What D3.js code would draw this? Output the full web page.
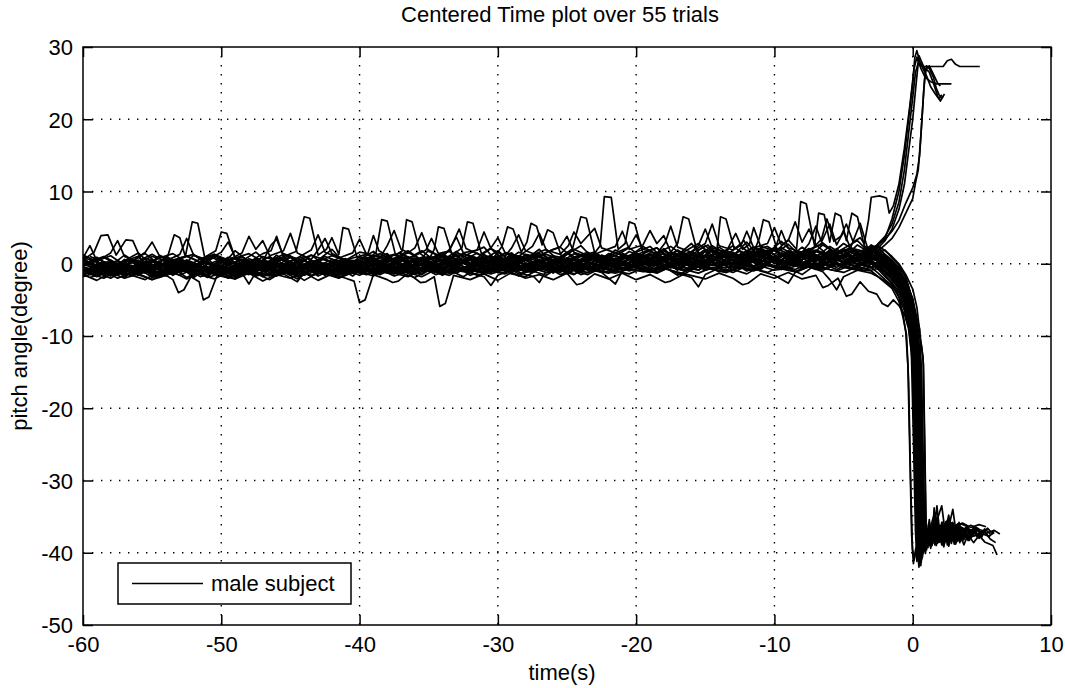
<!DOCTYPE html>
<html><head><meta charset="utf-8">
<script src="https://cdn.jsdelivr.net/npm/d3@7"></script>
<style>body{margin:0;background:#fff} text{font-family:"Liberation Sans",Arial,sans-serif;fill:#000}</style>
</head><body><svg id="c" width="1065" height="688"></svg>
<script>
// ---------- axis / labels ----------
const titleText = "Centered Time plot over 55 trials";
const xLabelText = "time(s)";
const yLabelText = "pitch angle(degree)";
const legendText = "male subject";
const xTicks = [-60,-50,-40,-30,-20,-10,0,10];
const yTicks = [-50,-40,-30,-20,-10,0,10,20,30];

// ---------- baseline samples, group A: 1 s steps starting at t=-60 ----------
const band01=[-0.5,-1.2,0.3,-0.8,-1.5,0.6,-0.2,-1.0,-0.4,0.8,-1.3,-0.6,0.2,-1.1,-0.3,0.9,-0.7,-1.4,0.1,-0.5,0.4,-0.9,1.1,-0.2,0.6,-1.0,0.3,1.3,-0.6,0.0,0.8,-0.4,1.2,-0.8,0.5,0.1,-0.7,1.0,-0.3,0.6,1.2,-0.4,0.9,1.8,0.2,-0.6,1.4,0.5,-0.2,1.6,0.8,-0.5,1.1,0.3,1.9,-0.1,0.7,1.3];
const band02=[-1.0,-0.3,-1.6,0.2,-0.9,-0.1,-1.4,0.5,-1.1,-0.6,0.4,-1.7,-0.2,-0.8,0.7,-1.2,0.0,-0.5,-1.5,0.3,-0.6,0.9,-0.3,-1.2,0.5,1.0,-0.8,0.2,-1.0,0.7,-0.1,1.4,-0.5,0.3,-1.3,0.8,0.1,-0.6,1.1,-0.2,0.5,1.5,-0.3,0.8,0.1,1.7,-0.6,0.9,1.3,0.0,2.0,0.4,-0.4,1.2,0.6,1.8,-0.2,0.9];
const band03=[0.8,-0.6,-1.3,-0.2,0.5,-1.8,-0.4,0.2,-0.9,-1.5,0.1,0.7,-1.0,-0.3,-1.6,0.4,-0.8,0.3,-1.2,-0.1,-1.1,0.3,0.6,-0.5,-1.4,0.2,0.9,-0.3,0.5,-0.9,1.2,0.0,-0.6,1.0,0.4,-1.1,0.6,1.3,-0.4,0.2,-0.5,0.7,2.1,0.3,-0.3,1.0,1.6,-0.1,0.6,2.2,0.2,1.0,-0.5,1.7,0.9,0.3,1.5,0.4];
const band04=[-1.4,-0.7,0.1,-1.9,-0.5,-1.1,0.3,-0.6,-1.7,0.0,-0.9,-0.2,-1.3,0.5,-0.4,-1.6,-0.9,0.2,-0.3,-1.0,0.1,-1.3,-0.4,0.7,-0.8,-0.2,1.1,-0.7,-1.1,0.4,-0.3,0.6,-1.0,0.1,0.9,-0.5,-0.9,0.5,0.0,-0.8,0.9,-0.2,0.4,-0.9,1.3,0.6,-0.3,0.2,1.1,-0.7,0.5,1.4,0.0,-0.4,1.0,0.3,-0.6,0.8];
const band05=[-0.2,0.9,-0.5,0.4,1.5,-0.3,0.7,-0.9,1.2,0.1,-0.4,1.8,0.3,-0.2,0.6,1.1,-0.6,0.5,2.0,-0.1,0.6,1.7,0.2,1.0,-0.4,1.9,0.8,0.3,1.5,2.3,0.1,1.0,0.6,2.0,-0.2,1.3,2.5,0.5,1.1,0.0,1.6,2.4,0.7,1.2,2.8,0.4,1.9,1.1,3.0,0.6,2.2,1.4,0.5,2.6,1.0,2.1,3.2,1.3];
const band06=[-1.8,-1.2,-2.0,-0.9,-1.5,-2.2,-1.0,-1.6,-0.7,-1.9,-1.3,-2.1,-0.8,-1.4,-1.7,-1.0,-2.3,-1.2,-0.6,-1.5,-1.1,-1.7,-0.5,-1.3,-1.9,-0.8,-1.2,-0.4,-1.6,-1.0,-0.6,-1.4,-1.8,-0.7,-1.1,-0.3,-1.5,-0.9,-1.3,-0.5,-0.9,-1.2,-0.4,-1.6,-0.7,-0.2,-1.1,-0.8,-1.4,-0.3,-0.9,-0.6,-1.5,-0.1,-0.8,-1.2,-0.4,-0.9];
const band07=[0.3,-0.4,-1.0,0.6,-0.2,-0.7,1.0,0.1,-0.5,0.4,-1.1,0.8,0.0,-0.6,1.2,-0.3,0.5,-0.8,0.2,0.7,-0.2,0.5,1.4,-0.6,0.8,0.2,-0.4,1.6,0.6,-0.1,0.9,1.5,-0.3,0.4,1.1,0.7,-0.5,1.3,0.3,1.0,0.2,1.1,0.6,1.9,0.8,0.3,2.3,1.0,0.5,1.4,2.0,0.7,1.6,0.9,2.4,1.2,0.6,1.7];
const band08=[-0.9,-1.6,-0.4,-1.2,0.0,-0.8,-1.5,-0.3,-1.9,-0.6,-1.0,-0.2,-1.4,-0.7,-1.2,-0.1,-1.6,-0.9,-1.3,-0.4,-0.5,-1.0,0.2,-0.7,-1.4,-0.1,-0.6,0.4,-1.2,-0.3,0.1,-0.9,-0.2,0.6,-0.8,-1.1,0.0,-0.5,0.5,-1.0,-0.3,0.4,-0.7,0.2,1.0,-0.5,0.3,-0.9,0.7,0.1,-0.4,1.2,0.0,0.6,-0.2,0.9,0.4,-0.6];
const band09=[-0.3,0.4,-0.9,-1.4,0.2,-0.5,0.9,-1.2,-0.1,-0.7,0.6,-0.4,-1.0,0.3,-0.2,-1.3,0.5,-0.6,0.1,-0.9,0.2,-0.4,0.8,0.0,-0.9,1.0,0.4,-0.3,0.7,-0.6,0.3,1.1,-0.2,-0.8,0.6,0.2,1.2,-0.4,0.5,0.9,0.6,-0.1,1.0,0.4,1.5,-0.2,0.8,1.2,0.3,1.8,0.6,0.1,1.3,0.7,1.6,0.2,1.0,2.0];
const band10=[-1.2,0.0,-0.6,-1.1,-0.3,0.4,-1.4,-0.8,0.1,-1.0,-0.5,-1.5,0.3,-0.7,-1.1,-0.2,-0.8,0.5,-1.3,-0.6,-0.8,0.0,-1.1,0.5,-0.3,-0.9,0.2,-0.6,0.9,-0.2,-1.0,0.4,0.8,-0.4,0.1,-0.7,0.6,-0.1,-0.9,0.3,1.0,0.2,-0.3,0.7,-0.6,1.1,0.4,-0.1,0.9,1.5,0.0,0.6,-0.3,1.1,0.5,-0.2,1.4,0.8];
const band11=[0.5,-0.2,0.2,-0.6,0.9,-0.9,0.0,0.6,-0.4,1.1,0.3,-0.8,0.7,0.0,-0.5,0.4,1.0,-0.3,0.6,-0.7,1.0,0.3,-0.5,1.2,0.7,-0.2,0.5,1.7,0.0,1.1,0.6,-0.4,1.3,0.9,0.2,1.6,0.4,-0.1,1.4,0.8,1.5,0.7,1.9,0.1,1.2,2.5,0.9,1.6,0.4,2.1,1.3,2.7,0.8,1.9,1.2,2.8,1.6,2.3];
const band12=[-0.7,-1.3,-0.1,-0.9,-1.6,-0.4,0.0,-1.2,-0.6,-1.8,-0.2,-0.9,-1.5,-0.5,0.2,-1.0,-0.4,-1.7,-0.8,-0.2,-1.3,-0.6,-0.1,-1.0,-0.4,0.3,-0.8,-1.3,-0.2,0.4,-0.7,-0.1,-1.2,0.2,-0.5,0.6,-0.9,-0.3,0.1,-0.6,0.0,-0.7,0.5,-0.2,-0.9,0.3,0.8,-0.4,0.1,-0.8,0.6,-0.1,0.9,-0.5,0.3,-0.2,0.7,0.0];
const band13=[0.1,-0.9,-0.2,-0.5,-1.2,0.3,-0.6,-0.1,-1.3,0.0,-0.3,-0.9,0.4,-1.1,-0.5,0.2,-0.2,-1.0,-0.4,0.3,-0.3,0.7,-0.5,0.3,1.1,-0.7,0.0,0.5,-0.4,1.2,0.2,-0.9,0.6,0.0,1.0,-0.6,0.3,0.8,-0.2,1.3,-0.1,0.8,1.4,0.0,0.6,-0.3,1.2,0.5,1.8,0.2,0.9,-0.1,1.5,0.4,1.1,2.0,0.3,1.0];
const band14=[-1.6,-0.8,-1.1,-0.2,-1.4,-0.9,-1.7,-0.5,-0.1,-1.3,-0.8,-1.4,-0.4,-1.8,-0.9,-0.6,-1.2,-0.1,-1.5,-1.1,-0.4,-1.5,-0.8,-0.2,-1.2,-0.6,-1.6,-0.3,-0.9,-1.3,-0.5,0.0,-1.1,-0.7,-0.2,-1.4,-0.4,-0.8,-1.2,-0.1,-0.6,-1.1,-0.2,-0.7,0.1,-0.9,-0.4,0.2,-1.0,-0.3,0.4,-0.6,-0.1,-0.8,0.3,-0.5,-0.9,0.0];
const band15=[0.9,0.2,-0.3,1.2,0.0,0.5,-0.4,0.8,1.3,-0.1,0.6,0.2,-0.5,1.0,0.4,0.9,-0.2,0.3,1.1,0.5,0.4,-0.1,0.9,1.5,0.3,0.8,1.2,0.0,1.0,0.6,1.8,0.2,0.7,1.4,0.5,0.0,1.1,1.6,0.4,0.8,1.3,0.5,1.8,1.0,0.6,2.0,1.2,2.5,0.9,1.5,1.9,0.7,2.3,1.1,1.7,0.8,2.6,1.4];
const band16=[-0.4,-1.0,-1.7,-0.6,-0.3,-1.4,-0.9,0.1,-0.7,-1.2,-0.4,-1.9,-0.6,-0.1,-1.1,-0.7,-1.5,-0.3,-0.9,-1.2,-0.9,-0.2,-0.7,-1.4,0.0,-0.5,-1.0,-0.1,0.5,-0.8,-0.4,-1.1,0.1,-0.3,-0.9,0.3,-0.6,-1.0,-0.2,0.2,-0.5,0.1,-0.8,0.6,-0.2,-0.6,0.4,-0.9,0.0,0.5,-0.4,0.2,-0.7,0.8,0.1,-0.3,0.5,-0.5];
const band17=[-0.1,-0.6,0.5,-1.0,0.1,-0.3,-0.8,0.4,-0.5,0.2,-1.2,-0.2,0.3,-0.7,0.0,-0.4,0.6,-1.1,0.0,-0.3,0.0,0.6,-0.2,0.9,0.1,-0.5,1.3,0.4,-0.2,0.7,1.0,-0.3,0.5,1.2,-0.1,0.8,0.3,1.5,0.2,-0.3,0.8,1.3,0.3,1.0,1.7,0.5,0.0,1.4,0.7,1.1,0.2,1.8,0.9,0.4,1.3,1.9,0.6,1.2];
const band18=[-1.1,-0.5,-1.5,-0.3,-1.0,-0.2,-1.3,-0.7,-1.1,-0.4,-1.6,-0.6,-0.9,-1.4,-0.3,-0.8,-1.2,-0.6,-1.0,-0.5,-0.7,-1.2,-0.1,-0.6,-1.0,-0.3,0.1,-0.9,-0.5,-1.1,0.0,-0.4,-0.8,0.3,-0.6,-0.2,-1.0,0.4,-0.4,-0.7,0.2,-0.3,0.6,-0.6,0.3,-0.1,0.9,-0.4,0.4,0.0,-0.5,0.7,0.2,-0.2,1.0,0.1,-0.3,0.6];

// ---------- baseline samples, group B: 1 s steps starting at t=-59.5 ----------
const band19=[-0.8,0.2,-1.4,-0.3,-1.0,0.4,-1.6,-0.5,0.1,-1.2,-0.2,-0.9,0.6,-1.3,-0.4,-1.8,0.0,-0.7,-1.1,0.3,-0.5,-1.3,0.2,-0.6,0.8,-0.9,-0.1,0.5,-1.1,0.3,-0.4,1.0,-0.7,0.2,-1.0,0.7,-0.3,0.4,1.2,-0.5,0.1,0.9,-0.4,1.4,0.3,-0.2,1.1,0.6,-0.5,1.5,0.2,0.9,1.7,-0.1,0.6,1.2,0.3];
const band20=[0.4,-1.1,-0.5,-1.7,0.0,-0.8,-1.3,0.2,-0.6,-1.5,-0.1,0.5,-1.0,-0.4,-1.2,0.1,-0.6,-1.6,-0.2,-0.9,0.5,-0.3,-1.0,0.1,0.9,-0.6,0.3,-0.8,0.6,1.1,-0.2,0.4,-0.9,0.8,0.0,-0.5,1.0,0.2,-0.7,0.6,1.3,0.0,0.7,-0.3,1.6,0.4,1.0,-0.2,0.8,1.9,0.5,-0.1,1.2,0.7,2.1,0.3,1.4];
const band21=[-1.5,-0.9,-2.0,-1.2,-0.6,-1.7,-1.1,-2.1,-0.8,-1.4,-1.9,-0.7,-1.3,-2.2,-1.0,-0.5,-1.6,-1.2,-1.9,-0.9,-1.4,-0.8,-1.7,-1.1,-0.5,-1.5,-0.9,-1.8,-0.6,-1.2,-0.3,-1.4,-1.0,-1.6,-0.4,-0.9,-1.5,-0.6,-1.1,-0.2,-0.8,-1.3,-0.4,-1.0,-0.1,-0.7,-1.2,-0.3,-0.9,0.0,-0.6,-1.1,-0.2,-0.7,0.1,-0.5,-0.9];
const band22=[0.2,0.9,-0.2,0.5,-0.6,1.1,0.3,-0.4,0.7,1.3,-0.1,0.6,0.0,1.0,-0.5,0.4,1.2,-0.2,0.8,0.1,0.7,1.4,0.2,0.9,-0.2,1.1,1.7,0.4,0.8,0.1,1.5,0.6,1.2,2.0,0.3,0.9,1.6,0.5,1.1,2.2,0.8,1.5,2.4,1.0,0.4,1.8,1.2,2.6,0.9,1.6,2.2,1.1,1.8,2.9,1.3,2.0,1.5];
const band23=[-0.6,-1.4,-0.9,-0.2,-1.1,-1.8,-0.5,-1.0,-0.3,-1.5,-0.8,-1.2,-0.1,-1.6,-0.7,-1.0,-0.4,-1.3,-0.6,-1.7,-0.2,-0.9,-1.4,-0.4,-0.8,0.1,-1.2,-0.5,-0.1,-0.9,-1.3,0.2,-0.6,-0.3,-1.0,0.0,-0.7,-1.1,0.3,-0.4,-0.1,0.5,-0.6,0.2,-0.9,0.7,-0.2,0.4,-0.5,0.9,0.1,-0.3,0.6,-0.4,1.0,0.2,-0.1];
const band24=[1.0,0.3,-0.2,0.7,1.4,-0.1,0.5,1.1,0.2,-0.3,0.9,0.4,1.6,0.0,0.6,-0.4,1.2,0.5,0.1,0.8,1.3,0.2,0.7,1.8,0.5,1.0,0.0,1.4,0.8,2.1,0.3,1.1,0.6,1.6,2.3,0.7,1.3,0.4,1.9,1.0,2.4,1.2,0.6,1.7,2.8,1.1,1.9,0.8,2.3,1.5,3.1,1.2,2.0,2.7,1.4,2.2,1.7];
const band25=[-1.0,-0.4,-1.3,-0.7,-0.1,-1.5,-0.9,-0.3,-1.2,-0.6,-1.7,-0.2,-1.0,-0.5,-1.4,-0.8,-0.3,-1.1,-1.6,-0.4,-0.9,-0.3,-1.1,0.0,-0.6,-1.2,-0.2,0.4,-0.8,-0.4,0.2,-1.0,-0.1,0.6,-0.5,-0.9,0.3,-0.3,0.8,-0.6,0.4,-0.2,1.0,0.2,-0.5,0.7,1.2,-0.1,0.5,1.4,0.0,0.8,-0.3,1.1,0.4,1.6,0.6];
const band26=[-0.3,-1.0,0.1,-0.6,-1.3,-0.4,0.3,-0.8,-1.1,-0.2,-0.7,0.2,-1.0,-0.5,0.0,-1.4,-0.3,-0.9,0.4,-0.6,0.2,-0.4,-0.9,0.5,0.0,-0.6,0.9,0.3,-0.3,0.7,-0.7,0.1,1.0,-0.2,0.6,0.2,-0.4,1.2,0.5,0.0,0.9,0.3,1.5,0.6,-0.1,1.1,0.4,1.8,0.8,0.2,1.3,0.7,1.9,0.5,1.0,1.6,0.9];
const band27=[-1.9,-1.3,-0.8,-1.6,-2.2,-1.0,-1.5,-0.7,-1.8,-1.2,-2.0,-0.9,-1.4,-1.7,-1.1,-2.1,-0.8,-1.3,-1.6,-1.0,-1.5,-0.9,-1.3,-1.8,-0.7,-1.1,-1.6,-0.5,-1.0,-1.4,-0.8,-1.7,-0.6,-1.2,-0.9,-1.5,-0.4,-1.0,-1.3,-0.7,-1.1,-0.5,-0.9,-1.4,-0.3,-0.8,-1.2,-0.5,-1.0,-0.2,-0.7,-1.1,-0.4,-0.9,-0.1,-0.6,-1.0];
const band28=[0.6,-0.1,0.4,-0.5,0.8,0.0,-0.7,0.5,-0.2,0.9,0.2,-0.4,0.6,-0.1,1.0,-0.6,0.3,0.7,-0.3,0.4,0.0,0.8,1.3,0.1,0.6,-0.3,1.0,0.4,1.5,0.2,0.8,-0.1,1.2,0.6,0.1,1.4,0.7,1.0,0.3,1.7,0.9,0.4,1.6,1.1,0.5,2.0,0.8,1.3,2.3,0.6,1.5,1.0,2.1,1.4,0.8,1.8,1.2];
const band29=[-1.2,-0.7,-1.6,-0.4,-1.0,-1.4,-0.6,-1.9,-0.9,-0.3,-1.3,-0.8,-1.7,-0.5,-1.1,-1.5,-0.2,-1.0,-0.6,-1.3,-0.8,-1.2,-0.4,-0.9,-1.5,-0.3,-0.7,-1.1,-0.2,-0.6,-1.0,-0.4,0.1,-0.8,-1.2,-0.1,-0.5,-0.9,0.2,-0.3,-0.7,0.0,-0.4,-1.0,0.3,-0.2,-0.6,0.4,-0.3,0.1,-0.8,0.5,-0.1,0.2,-0.5,0.6,0.0];
const band30=[0.0,-0.6,-0.2,-1.0,0.3,-0.5,-0.9,0.1,-0.3,-1.1,0.4,-0.4,-0.8,0.2,-0.1,-0.7,0.5,-0.5,-1.0,0.0,0.3,-0.2,0.7,-0.5,0.1,0.9,-0.3,0.4,-0.7,0.6,0.2,1.1,-0.1,0.5,-0.4,0.8,0.3,1.0,-0.2,0.6,1.1,0.4,0.8,1.5,0.2,0.9,1.3,0.5,1.7,0.7,0.1,1.2,1.8,0.6,1.1,0.3,1.5];
const band31=[-0.9,-1.5,-0.6,-1.1,-0.3,-1.8,-1.2,-0.7,-1.4,-0.4,-1.0,-1.6,-0.8,-0.2,-1.3,-0.9,-1.7,-0.5,-1.2,-0.8,-1.1,-0.6,-1.4,-0.2,-0.9,-0.5,-1.3,-0.7,0.0,-1.0,-0.4,-0.8,-1.2,-0.3,-0.6,0.1,-0.9,-0.5,-0.2,-1.0,-0.4,-0.8,0.0,-0.5,-0.9,0.2,-0.3,-0.7,0.3,-0.2,-0.6,0.4,-0.4,0.0,-0.8,0.2,-0.3];
const band32=[0.3,1.0,0.0,0.6,-0.3,0.8,1.4,0.2,-0.2,1.1,0.5,0.9,-0.1,0.4,1.3,0.7,0.0,1.0,0.3,-0.4,0.9,0.4,1.2,0.7,1.8,0.3,0.8,1.4,0.5,1.0,0.2,1.6,0.9,1.3,0.6,2.0,1.1,0.5,1.5,0.9,1.6,2.2,0.8,1.4,1.0,2.5,1.3,0.7,1.9,2.4,1.2,1.7,0.9,2.6,1.5,2.0,1.1];
const band33=[-0.4,0.2,-1.2,-0.6,0.0,-0.9,-0.3,0.5,-1.0,-0.5,-1.4,-0.1,-0.7,0.3,-0.8,-1.3,-0.4,0.1,-0.9,-0.2,-0.6,0.3,-0.4,-1.0,0.6,-0.2,0.2,-0.7,0.8,0.0,-0.5,0.4,0.9,-0.3,0.5,0.0,1.1,0.3,-0.4,0.7,0.2,1.0,0.5,-0.2,1.3,0.6,0.1,0.9,1.6,0.3,1.1,0.6,1.4,0.2,0.8,1.7,0.5];
const band34=[-1.3,-2.0,-1.0,-1.6,-0.7,-1.9,-1.2,-0.9,-1.5,-2.1,-1.1,-0.6,-1.7,-1.3,-0.8,-1.8,-1.0,-1.4,-2.0,-1.2,-0.9,-1.5,-0.6,-1.2,-1.8,-0.8,-1.3,-0.5,-1.6,-1.0,-1.4,-0.7,-1.1,-0.4,-1.5,-0.9,-1.2,-0.3,-1.0,-1.4,-0.6,-1.1,-0.2,-0.8,-1.3,-0.5,-0.9,0.0,-0.7,-1.2,-0.3,-0.8,0.1,-0.6,-1.0,-0.2,-0.7];

// ---------- end of each trial: [time, angle] ----------
const tail01=[[-2.5,1.0],[-2,0.6],[-1.5,0.2],[-1,-0.8],[-0.5,-2.5],[0,-6],[0.2,-9],[0.35,-20],[0.5,-34],[0.6,-39.5],[0.75,-38],[1,-37.2],[1.4,-37.8],[1.8,-37.0],[2.3,-37.6],[2.8,-37.1],[3.2,-37.5]];
const tail02=[[-2.5,0.8],[-2,1.2],[-1.5,0.4],[-1,-0.5],[-0.5,-1.8],[-0.1,-4.5],[0.1,-10],[0.25,-25],[0.4,-38],[0.5,-41.5],[0.7,-39],[1,-37.6],[1.5,-38.2],[2,-37.4],[2.6,-38.0],[3.4,-37.3],[4.1,-37.8],[4.8,-37.5]];
const tail03=[[-2.5,1.6],[-2,0.9],[-1.5,0.0],[-1,-1.3],[-0.5,-3.2],[0,-7.5],[0.3,-9.5],[0.45,-16],[0.6,-30],[0.75,-37.5],[0.9,-38.6],[1.2,-37.0],[1.6,-34.4],[1.8,-36.2],[2.1,-36.8],[2.5,-35.8],[2.9,-36.5],[3.5,-36.0],[4.0,-36.4]];
const tail04=[[-2.5,0.3],[-2,-0.2],[-1.5,-0.9],[-1,-1.8],[-0.5,-3.6],[-0.2,-6.5],[0,-12],[0.15,-24],[0.3,-36],[0.4,-40.5],[0.6,-38.2],[0.9,-37.4],[1.3,-37.9],[1.8,-38.4],[2.2,-37.6]];
const tail05=[[-2.5,2.8],[-2,3.8],[-1.5,5.5],[-1,8.5],[-0.6,13],[-0.3,18],[0,23],[0.2,26.5],[0.4,27.8],[0.7,27.2],[1,26],[1.3,24.5],[1.6,23.6],[1.9,22.8],[2.1,23.4]];
const tail06=[[-2.5,-0.6],[-2,-1.1],[-1.5,-1.9],[-1,-3.0],[-0.5,-5.2],[-0.2,-8],[0.05,-15],[0.2,-30],[0.32,-39],[0.45,-42],[0.6,-39.5],[0.9,-38.3],[1.3,-38.8],[1.7,-38.0],[2.2,-38.6],[2.7,-38.1],[3.1,-38.5]];
const tail07=[[-2.5,1.5],[-2,1.9],[-1.5,0.8],[-1,-0.2],[-0.5,-2.0],[0,-5],[0.25,-8],[0.4,-14],[0.55,-28],[0.7,-37],[0.85,-39.2],[1.1,-37.8],[1.5,-37.1],[2,-37.7],[2.4,-37.2],[3,-37.9],[3.5,-37.4],[4.2,-37.8],[4.9,-37.3],[5.5,-37.7],[5.9,-37.2]];
const tail08=[[-2.5,-0.2],[-2,-0.7],[-1.5,-1.4],[-1,-2.6],[-0.5,-4.3],[-0.1,-7],[0.1,-13],[0.25,-27],[0.4,-37.5],[0.55,-40],[0.75,-38.4],[1.0,-37.6],[1.4,-38.1],[1.9,-37.5],[2.4,-38.0]];
const tail09=[[-2.5,1.3],[-2,0.5],[-1.5,-0.3],[-1,-1.0],[-0.5,-2.8],[0,-6.5],[0.2,-9],[0.3,-18],[0.45,-33],[0.6,-40.8],[0.8,-38.6],[1.1,-37.3],[1.5,-36.8],[2.0,-37.5],[2.6,-36.9],[3.3,-37.4],[4,-36.9],[4.6,-37.3]];
const tail10=[[-2.5,0.6],[-2,0.1],[-1.5,-0.6],[-1,-1.5],[-0.5,-3.5],[0,-8],[0.15,-11],[0.3,-24],[0.45,-36.5],[0.55,-41],[0.7,-39],[0.85,-37.1],[1.0,-39.2],[1.15,-37.4],[1.3,-39.4],[1.5,-37.0],[1.7,-39.0],[1.9,-36.9],[2.1,-38.9],[2.35,-37.2],[2.6,-39.1],[2.85,-37.3],[3.1,-38.8],[3.4,-37.4],[3.7,-38.9],[4.0,-37.5],[4.4,-38.6],[4.8,-37.6],[5.2,-38.5],[5.8,-39],[6.1,-40.3]];
const tail11=[[-2.5,2.5],[-2,1.8],[-1.5,1.0],[-1,0.0],[-0.5,-1.5],[0,-3.5],[0.3,-6],[0.6,-11],[0.75,-13],[0.85,-24],[0.95,-36],[1.05,-38.4],[1.3,-37.0],[1.7,-35.8],[2.1,-33.5],[2.3,-36.5],[2.6,-35.5],[3.0,-36.3],[3.6,-35.9],[4.2,-36.5],[4.8,-36.1],[5.3,-36.4]];
const tail12=[[-2.5,0.2],[-2,-0.4],[-1.5,-1.2],[-1,-2.2],[-0.5,-4.0],[-0.1,-6],[0.1,-9.5],[0.2,-18],[0.35,-32],[0.5,-39.8],[0.65,-38.5],[0.9,-37.9],[1.3,-38.3],[1.7,-37.6],[2.1,-38.2],[2.6,-37.7],[3.0,-38.1]];
const tail13=[[-2.5,1.0],[-2,0.3],[-1.5,-0.5],[-1,-1.7],[-0.5,-3.0],[0,-5.5],[0.3,-9],[0.45,-20],[0.6,-35],[0.72,-40],[0.9,-38],[1.2,-36.9],[1.6,-37.4],[2.0,-36.8],[2.5,-37.3],[2.9,-34.0],[3.1,-36.7],[3.7,-37.2],[4.3,-36.8]];
const tail14=[[-2.5,-0.4],[-2,-1.0],[-1.5,-1.6],[-1,-2.5],[-0.5,-4.8],[-0.2,-7.5],[0,-10],[0.15,-22],[0.3,-35],[0.4,-41],[0.55,-39.5],[0.8,-38.2],[1.2,-38.7],[1.6,-38.1],[2.0,-38.6]];
const tail15=[[-2.5,1.8],[-2,2.6],[-1.5,3.5],[-1,5],[-0.5,7],[0,9],[0.2,11.2],[0.4,13],[0.6,18],[0.8,24],[0.95,27],[1.2,26.5],[1.5,25],[1.8,23.2],[2.0,22.5],[2.2,23.2]];
const tail16=[[-2.5,0.0],[-2,-0.6],[-1.5,-1.0],[-1,-2.0],[-0.5,-3.8],[0,-7],[0.2,-10],[0.35,-21],[0.5,-35],[0.65,-40.5],[0.8,-38.7],[1.1,-37.5],[1.5,-38.0],[2.0,-37.4],[2.5,-37.9],[3.2,-37.3],[3.8,-37.8]];
const tail17=[[-2.5,1.2],[-2,0.7],[-1.5,0.1],[-1,-0.9],[-0.5,-2.3],[0,-5],[0.2,-8],[0.4,-10],[0.55,-22],[0.7,-35.5],[0.85,-39.6],[1.0,-38.2],[1.15,-36.0],[1.3,-38.6],[1.45,-36.4],[1.6,-38.9],[1.75,-36.7],[1.95,-38.5],[2.15,-35.8],[2.35,-38.2],[2.55,-36.3],[2.8,-38.7],[3.05,-36.5],[3.3,-38.2],[3.6,-36.6],[3.9,-38.0],[4.3,-36.8],[4.7,-37.9],[5.1,-36.9],[5.5,-37.8],[5.9,-36.9],[6.3,-37.4]];
const tail18=[[-2.5,0.5],[-2,0.0],[-1.5,-0.8],[-1,-1.9],[-0.5,-3.3],[-0.1,-5.5],[0.1,-9],[0.25,-17],[0.4,-31],[0.55,-39],[0.7,-38.3],[1.0,-36.8],[1.5,-37.4],[2.0,-36.5],[2.5,-37.1],[3.0,-36.6]];
const tail19=[[-3,0.2],[-2.5,-0.6],[-2,-1.5],[-1.5,-2.8],[-1,-4.5],[-0.6,-6.5],[-0.3,-8.5],[-0.1,-12],[0.05,-24],[0.2,-37],[0.3,-41.2],[0.45,-39],[0.7,-38.2],[0.9,-38.8],[1.1,-37.9],[1.3,-38.5],[1.6,-37.7],[1.9,-38.3],[2.2,-37.6],[2.6,-38.2],[3.0,-37.8],[3.3,-38.3]];
const tail20=[[-3,1.0],[-2.5,0.5],[-2,-0.3],[-1.5,-1.4],[-1,-3.2],[-0.6,-5.5],[-0.3,-8.0],[0,-9.5],[0.2,-13],[0.35,-28],[0.5,-38.5],[0.6,-40.2],[0.75,-38.0],[0.9,-36.2],[1.05,-38.6],[1.2,-36.6],[1.35,-38.9],[1.5,-36.0],[1.65,-38.2],[1.8,-35.6],[1.95,-38.4],[2.1,-36.4],[2.3,-38.7],[2.5,-36.1],[2.7,-38.0],[2.9,-35.8],[3.1,-37.9],[3.4,-36.4],[3.7,-38.2],[4.0,-36.5],[4.4,-37.6]];
const tail21=[[-3,2.0],[-2.5,1.5],[-2,0.8],[-1.5,-0.2],[-1,-1.6],[-0.5,-3.5],[-0.2,-5.5],[0.1,-8],[0.4,-10.5],[0.6,-14],[0.72,-25],[0.85,-36],[0.95,-39.5],[1.1,-37.0],[1.25,-39.0],[1.4,-36.4],[1.55,-38.7],[1.7,-35.9],[1.85,-38.3],[2.0,-36.2],[2.2,-39.0],[2.4,-35.7],[2.6,-38.4],[2.8,-36.3],[3.0,-38.8],[3.25,-36.0],[3.5,-38.1],[3.8,-36.6],[4.1,-38.3],[4.4,-36.4],[4.8,-37.9],[5.2,-36.7],[5.6,-37.4]];
const tail22=[[-3,0.5],[-2.5,-0.2],[-2,-1.0],[-1.5,-2.0],[-1,-3.6],[-0.6,-5.0],[-0.3,-7.0],[0,-10.5],[0.15,-19],[0.28,-33],[0.38,-40],[0.5,-39.3],[0.7,-37.8],[0.9,-38.6],[1.1,-37.5],[1.35,-38.3],[1.6,-37.4],[1.9,-38.1],[2.2,-37.3],[2.5,-37.9],[2.8,-37.2]];
const tail23=[[-3,2.6],[-2.5,2.0],[-2,1.3],[-1.5,0.5],[-1,-0.8],[-0.5,-2.6],[0,-4.8],[0.3,-7.5],[0.5,-9],[0.65,-16],[0.78,-31],[0.9,-38.2],[1.0,-39.6],[1.15,-37.2],[1.3,-39.1],[1.45,-36.0],[1.6,-38.5],[1.75,-35.4],[1.9,-37.9],[2.05,-36.5],[2.25,-39.2],[2.45,-36.8],[2.65,-38.6],[2.85,-35.9],[3.05,-38.0],[3.3,-36.3],[3.6,-38.4],[3.9,-36.5],[4.2,-38.0],[4.6,-36.6],[5.0,-37.8],[5.2,-36.9]];
const tail24=[[-3,-0.5],[-2.5,-1.3],[-2,-2.2],[-1.5,-3.0],[-1,-4.6],[-0.7,-7.0],[-0.5,-9.5],[-0.35,-14],[-0.2,-27],[-0.08,-37.5],[0.05,-41.5],[0.2,-39.6],[0.4,-38.5],[0.6,-39.1],[0.85,-38.3],[1.1,-38.9],[1.4,-38.2],[1.7,-38.8],[2.1,-38.1]];
const tail25=[[-3,1.4],[-2.5,0.8],[-2,0.2],[-1.5,-0.7],[-1,-2.0],[-0.5,-4.2],[-0.2,-6.4],[0.1,-9],[0.3,-11],[0.45,-22],[0.6,-36],[0.7,-40.6],[0.85,-38.6],[1.05,-37.4],[1.25,-38.1],[1.45,-37.0],[1.55,-33.8],[1.7,-37.7],[2.0,-36.9],[2.3,-37.6],[2.6,-34.8],[2.8,-36.9],[3.1,-37.5],[3.5,-36.8],[4.0,-37.4],[4.6,-36.9],[5.3,-37.3],[5.9,-36.9]];
const tail26=[[-3,0.8],[-2.5,0.3],[-2,-0.5],[-1.5,-1.6],[-1,-2.9],[-0.5,-5.0],[-0.2,-7.2],[0,-9],[0.2,-16],[0.35,-30],[0.47,-39],[0.58,-41.8],[0.75,-39.2],[0.95,-38.0],[1.15,-38.7],[1.4,-37.8],[1.7,-38.5],[2.0,-37.7],[2.4,-38.4],[2.8,-37.8],[3.2,-38.4],[3.7,-37.9]];
const tail27=[[-3,2.2],[-2.5,1.7],[-2,1.0],[-1.5,0.0],[-1,-1.2],[-0.5,-2.9],[0,-5.6],[0.3,-8.2],[0.5,-10],[0.65,-11.5],[0.78,-14],[0.88,-26],[0.98,-37.5],[1.08,-38.9],[1.2,-37.4],[1.35,-36.4],[1.55,-37.1],[1.75,-33.5],[1.9,-36.2],[2.2,-36.9],[2.5,-36.0],[2.8,-36.8],[3.2,-36.1],[3.7,-36.7],[4.2,-36.2],[4.8,-36.7]];
const tail28=[[-3,0.0],[-2.5,-0.8],[-2,-1.8],[-1.5,-2.6],[-1,-3.9],[-0.6,-6.0],[-0.2,-8.8],[0,-11],[0.12,-20],[0.25,-34],[0.35,-40.5],[0.5,-38.9],[0.7,-37.9],[0.9,-38.6],[1.1,-37.6],[1.4,-38.4],[1.7,-37.5],[2.0,-38.2],[2.4,-37.4],[2.8,-38.0]];
const tail29=[[-3,1.5],[-2.5,2.2],[-2,3.2],[-1.5,4.8],[-1,7.5],[-0.6,11],[-0.3,15.5],[0,20],[0.25,25],[0.45,28.8],[0.65,27.9],[0.9,26.8],[1.2,27.4],[1.5,26.2],[1.8,25.0],[2.0,24.6]];
const tail30=[[-3,1.2],[-2.5,0.6],[-2,-0.1],[-1.5,-1.1],[-1,-2.4],[-0.5,-4.6],[-0.2,-6.8],[0.05,-9.2],[0.25,-12],[0.4,-24],[0.55,-37],[0.65,-40.9],[0.8,-38.8],[0.95,-36.9],[1.1,-39.3],[1.25,-37.0],[1.4,-39.0],[1.55,-36.5],[1.7,-38.8],[1.9,-36.3],[2.1,-38.5],[2.3,-36.0],[2.5,-38.9],[2.7,-36.6],[2.9,-38.2],[3.15,-36.2],[3.4,-38.6],[3.7,-36.8],[4.0,-38.3],[4.4,-36.9],[4.8,-38.0],[5.2,-37.0],[5.6,-38.1],[6.0,-38.6]];
const tail31=[[-3,0.4],[-2.5,-0.4],[-2,-1.2],[-1.5,-2.3],[-1,-3.3],[-0.5,-5.4],[-0.2,-7.9],[0,-9.6],[0.15,-14],[0.3,-29],[0.42,-38.8],[0.52,-41.2],[0.68,-39.1],[0.9,-37.9],[1.1,-38.7],[1.35,-37.7],[1.6,-38.4],[1.9,-37.6],[2.3,-38.3],[2.7,-37.6],[3.1,-38.2],[3.6,-37.6],[4.1,-38.1]];
const tail32=[[-3,1.8],[-2.5,1.1],[-2,0.4],[-1.5,-0.6],[-1,-1.9],[-0.5,-3.9],[-0.1,-6.5],[0.2,-9.3],[0.4,-10.8],[0.55,-19],[0.7,-33],[0.8,-39.2],[0.92,-40.1],[1.05,-37.5],[1.2,-35.4],[1.35,-37.8],[1.5,-35.9],[1.65,-38.2],[1.8,-35.3],[1.95,-37.6],[2.1,-35.8],[2.3,-38.0],[2.5,-35.5],[2.7,-37.7],[2.9,-36.0],[3.1,-38.1],[3.35,-35.8],[3.6,-37.6],[3.9,-36.3],[4.2,-37.8],[4.6,-36.5],[5.0,-37.5],[5.4,-36.6],[5.7,-37.2]];
const tail33=[[-3,-1.0],[-2.5,-1.8],[-2,-2.6],[-1.5,-3.4],[-1,-5.2],[-0.7,-7.4],[-0.45,-9.8],[-0.3,-16],[-0.15,-30],[-0.02,-39.5],[0.1,-41.0],[0.3,-39.2],[0.5,-38.1],[0.7,-38.9],[0.95,-38.0],[1.2,-38.7],[1.5,-37.9],[1.8,-38.6],[2.2,-37.8]];
const tail34=[[-3,2.0],[-2.5,2.7],[-2,3.4],[-1.5,4.5],[-1,6],[-0.5,8.4],[0,10.5],[0.3,12.4],[0.5,15],[0.7,21],[0.85,25.5],[1.0,27.4],[1.2,27.0],[1.5,25.8],[1.7,24.3],[1.9,23.4],[2.1,22.9],[2.3,23.5]];

// ---------- trials with irregular sampling: [time, angle] ----------
const spikyTrialA=[[-60,0.5],[-59.2,1.6],[-58.7,3.9],[-58.2,4.0],[-57.6,1.2],[-56.9,3.3],[-56.4,3.2],[-55.8,0.6],[-55,1.3],[-54,0.2],[-53.8,1.5],[-53.4,4.0],[-53,3.6],[-52.6,1.0],[-52.1,5.8],[-51.7,5.6],[-51.2,0.9],[-50.4,1.8],[-50,4.4],[-49.6,4.2],[-49,0.8],[-48,1.4],[-47,0.3],[-46.4,2.6],[-46,3.4],[-45.5,1.0],[-44.6,1.7],[-44,6.5],[-43.6,6.3],[-43,1.2],[-42.4,2.0],[-42,3.6],[-41.5,1.3],[-41.2,5.0],[-40.8,4.8],[-40.2,1.0],[-39.5,0.4],[-38.8,1.6],[-38.4,6.1],[-38,5.9],[-37.4,1.2],[-36.9,1.8],[-36.6,6.1],[-36.2,5.8],[-35.6,1.4],[-35,0.5],[-34.6,2.0],[-34.3,5.1],[-33.9,4.9],[-33.3,1.2],[-32.6,2.2],[-32.2,5.8],[-31.8,5.6],[-31.2,1.5],[-30.4,0.6],[-29.7,2.4],[-29.3,5.1],[-28.9,4.8],[-28.3,1.6],[-27.9,3.0],[-27.6,5.6],[-27.2,5.2],[-26.8,2.6],[-26.4,4.7],[-26,4.3],[-25.4,1.0],[-24.6,2.1],[-24,6.5],[-23.6,6.3],[-23,1.5],[-22.6,2.5],[-22.3,9.3],[-21.8,9.2],[-21.3,2.0],[-20.8,2.8],[-20.5,5.8],[-20.1,5.5],[-19.5,1.4],[-18.5,2.2],[-17.8,0.9],[-17,2.8],[-16.6,6.5],[-16.2,6.2],[-15.6,1.8],[-14.8,2.6],[-14.2,1.2],[-13.9,6.5],[-13.5,6.2],[-12.9,2.0],[-12.2,3.2],[-11.6,1.1],[-11.1,3.5],[-10.8,6.1],[-10.4,5.8],[-9.8,1.9],[-9,3.3],[-8.4,2.0],[-8.1,8.6],[-7.7,8.3],[-7.1,2.5],[-6.8,7.0],[-6.4,6.8],[-6,3.0],[-5.6,7.0],[-5.2,6.6],[-4.8,3.2],[-4.4,7.0],[-4,6.5],[-3.5,2.5],[-3,1.5],[-2.5,2.4],[-2,1.2],[-1.5,0.3],[-1,-1.2],[-0.5,-3],[0,-6],[0.3,-9.8],[0.5,-18],[0.65,-33],[0.8,-39.5],[1,-37.8],[1.4,-37.2],[1.9,-37.9],[2.3,-37.3],[2.8,-37.7],[3.3,-37.2]];
const spikyTrialB=[[-60,0.8],[-59.5,2.5],[-59,0.4],[-58,1.1],[-57,-0.2],[-56,0.9],[-55.5,1.6],[-55,3.0],[-54.5,1.2],[-53.5,0.3],[-52.5,1.0],[-51.5,0.2],[-50.5,1.3],[-49.5,0.5],[-48.5,1.5],[-48,3.8],[-47.5,2.0],[-47,3.2],[-46.5,1.1],[-45.5,1.8],[-45,4.2],[-44.5,1.5],[-43.5,0.6],[-43,1.9],[-42.5,3.5],[-42,1.4],[-41,0.5],[-40,1.6],[-39.4,1.4],[-39,3.9],[-38.6,1.8],[-37.6,0.7],[-36.5,1.5],[-36,2.2],[-35.5,4.3],[-35,1.7],[-34,0.9],[-33.5,2.0],[-33,3.7],[-32.5,1.5],[-31.5,1.9],[-31,4.4],[-30.5,2.1],[-29.5,1.0],[-29,2.2],[-28.5,4.0],[-28,1.8],[-27,1.1],[-26,2.0],[-25.5,2.3],[-25,3.8],[-24.5,1.6],[-23.5,0.9],[-22.5,1.7],[-21.5,2.4],[-21,4.5],[-20.5,2.0],[-19.5,2.6],[-19,4.6],[-18.5,2.8],[-18,3.9],[-17.5,1.6],[-16.5,0.8],[-15.5,2.5],[-15,4.8],[-14.5,2.2],[-13.5,1.6],[-12.8,4.2],[-12.3,2.0],[-11.8,2.7],[-11.5,5.0],[-11,2.4],[-10,1.8],[-9.5,4.6],[-9,2.2],[-8,1.6],[-7.5,2.8],[-7,5.2],[-6.6,3.0],[-6,5.5],[-5.5,2.6],[-5,4.4],[-4.5,2.2],[-3.8,5.6],[-3.3,2.4],[-3,1.8],[-2.5,2.6],[-2,3.5],[-1.5,6.2],[-1,10],[-0.6,15],[-0.3,20],[0,25],[0.15,28.5],[0.3,29.5],[0.5,28],[0.7,27.3],[1.5,27.3],[2.2,27.3],[2.5,28.1],[2.8,28.3],[3.1,27.6],[3.4,27.3],[4.85,27.3]];
const spikyTrialC=[[-60,1.2],[-59,0.3],[-58,1.5],[-57.5,3.2],[-57,1.0],[-56,0.2],[-55,1.0],[-54,0.4],[-53,1.3],[-52.5,3.5],[-52,1.2],[-51,0.5],[-50,1.6],[-49.5,3.0],[-49,0.9],[-48,0.2],[-47,1.4],[-46.4,1.8],[-46,3.8],[-45.6,1.5],[-44.6,0.7],[-43.5,1.9],[-43,4.0],[-42.5,1.6],[-41.5,0.8],[-40.5,1.5],[-40,3.4],[-39.5,1.3],[-38.5,0.9],[-38,2.5],[-37.5,4.6],[-37,2.0],[-36,1.1],[-35.2,1.9],[-34.8,3.5],[-34.3,1.4],[-33.5,1.8],[-32.8,4.8],[-32.3,2.1],[-31.3,1.2],[-30.5,2.2],[-30,3.6],[-29.5,1.6],[-28.5,1.0],[-27.5,2.4],[-27,4.2],[-26.5,1.9],[-25.5,1.3],[-24.9,2.5],[-24.5,4.4],[-24,2.8],[-23,4.9],[-22.5,2.2],[-21.5,1.5],[-20.5,2.3],[-20,4.0],[-19.5,2.0],[-18.5,1.4],[-17.9,2.9],[-17.5,5.2],[-17,2.3],[-16,1.6],[-15,2.8],[-14.5,5.5],[-14,2.5],[-13,1.9],[-12.4,2.6],[-12,4.5],[-11.5,2.2],[-10.5,2.8],[-10,5.0],[-9.5,2.6],[-9,3.2],[-8.5,5.8],[-8,3.0],[-7.5,4.8],[-7,2.6],[-6.6,3.4],[-6.2,6.2],[-5.7,3.1],[-5.2,3.8],[-4.8,5.5],[-4.3,3.0],[-3.8,3.6],[-3.5,2.8],[-3.2,6],[-3,9.2],[-2.4,9.4],[-1.9,9.1],[-1.7,7],[-1.4,8],[-1,11],[-0.6,16],[-0.2,22],[0.1,27],[0.3,28.6],[0.6,27],[0.9,25.8],[1.3,25.2],[1.7,24.9],[2.8,24.9]];
const dipTrialA=[[-60,-1.5],[-59,-2.3],[-58,-1.2],[-57,-2.0],[-56,-1.4],[-55,-2.2],[-54,-1.6],[-53.5,-2.2],[-53.1,-4.0],[-52.7,-3.6],[-52.2,-1.8],[-51.6,-2.5],[-51.3,-5.0],[-50.9,-4.6],[-50.3,-1.6],[-49,-2.1],[-48,-1.3],[-47,-2.4],[-46,-1.5],[-45,-2.0],[-44,-1.2],[-43,-2.3],[-42,-1.4],[-41,-2.0],[-40.4,-2.4],[-40,-5.4],[-39.6,-5.0],[-39,-1.5],[-38,-2.2],[-37.6,-2.6],[-37.2,-2.4],[-36.5,-1.3],[-35.6,-2.6],[-35.2,-2.5],[-34.6,-1.8],[-34.2,-5.9],[-33.8,-5.5],[-33.2,-1.6],[-32,-2.2],[-31,-1.4],[-30,-2.3],[-29,-1.2],[-28,-2.0],[-27,-1.5],[-26,-2.2],[-25,-1.3],[-24.3,-2.9],[-23.9,-2.7],[-23,-1.4],[-22,-2.1],[-21,-1.3],[-20,-2.2],[-19,-1.5],[-17.9,-2.6],[-17.5,-2.4],[-16.5,-1.4],[-15,-2.1],[-14,-1.3],[-13,-2.0],[-12.3,-2.9],[-11.9,-2.7],[-11,-1.4],[-10,-2.0],[-9,-1.2],[-8,-2.1],[-7,-1.6],[-6.5,-3.3],[-6.1,-3.0],[-5.4,-2.0],[-4.8,-4.5],[-4.4,-4.2],[-3.8,-2.5],[-3.2,-3.8],[-2.6,-4.2],[-2.2,-5.5],[-1.8,-5.9],[-1.4,-5.0],[-1,-5.8],[-0.6,-7],[-0.3,-9],[0,-14],[0.15,-25],[0.3,-37],[0.4,-40.8],[0.6,-38.4],[0.9,-37.6],[1.3,-38.2],[1.8,-37.4],[2.3,-38.0],[2.9,-37.5],[3.5,-38.1],[4.2,-37.6]];
const dipTrialB=[[-60,-1.0],[-59,-1.8],[-58,-0.9],[-57,-1.6],[-56,-0.6],[-55,-1.9],[-54,-1.2],[-53,-0.5],[-52,-1.5],[-51,-0.8],[-50,-1.7],[-49,-1.0],[-48.4,-1.6],[-48,-2.8],[-47.6,-1.5],[-46.5,-0.7],[-45.5,-1.4],[-44.5,-2.5],[-44,-1.2],[-43,-0.6],[-42,-1.5],[-41,-0.9],[-40,-1.6],[-39,-0.7],[-38,-1.3],[-37,-0.5],[-36,-1.4],[-35,-0.8],[-34,-1.5],[-33,-0.6],[-32,-1.3],[-31,-1.8],[-30.5,-3.0],[-30,-1.6],[-29,-0.8],[-28,-1.5],[-27.4,-1.8],[-27,-2.6],[-26.6,-1.3],[-25.5,-0.6],[-24.5,-1.4],[-23.5,-0.7],[-22.5,-1.2],[-21.5,-2.8],[-21,-1.0],[-20,-0.4],[-19,-1.2],[-18,-0.5],[-17,-1.3],[-16,-1.9],[-15.5,-3.2],[-15,-1.5],[-14,-0.6],[-13,-1.2],[-12,-0.3],[-11,-1.0],[-10,-1.6],[-9,-2.7],[-8.5,-1.2],[-7.5,-0.4],[-6.5,-1.1],[-6,-2.2],[-5.5,-3.6],[-5,-1.8],[-4,-0.9],[-3,-1.3],[-2.5,-1.8],[-2,-2.4],[-1.5,-3.2],[-1,-4.0],[-0.5,-5.0],[0,-6.5],[0.3,-9],[0.5,-12],[0.65,-22],[0.8,-34],[0.95,-38.8],[1.2,-37.5],[1.7,-36.7],[2.1,-37.3],[2.5,-36.6],[3.0,-37.2],[3.5,-36.5],[4.0,-37.0],[4.6,-36.6],[5.1,-37.0]];

// pairing of baseline and end segments
const groupA=[[band01,tail01],[band02,tail02],[band03,tail03],[band04,tail04],[band05,tail05],[band06,tail06],[band07,tail07],[band08,tail08],[band09,tail09],[band10,tail10],[band11,tail11],[band12,tail12],[band13,tail13],[band14,tail14],[band15,tail15],[band16,tail16],[band17,tail17],[band18,tail18]];
const groupB=[[band19,tail19],[band20,tail20],[band21,tail33],[band22,tail29],[band23,tail22],[band24,tail23],[band25,tail32],[band26,tail25],[band27,tail28],[band28,tail21],[band29,tail26],[band30,tail27],[band31,tail31],[band32,tail34],[band33,tail30],[band34,tail24]];
const irregularTrials=[spikyTrialA,spikyTrialB,spikyTrialC,dipTrialA,dipTrialB];
const startA=-60, startB=-59.5, stepSec=1;

// ---------- build ----------
const W=1065,H=688;
const M={l:83,r:1051,t:47,b:625};
const x=d3.scaleLinear().domain([-60,10]).range([M.l,M.r]);
const y=d3.scaleLinear().domain([-50,30]).range([M.b,M.t]);

function joinTrial(base,tl,t0){
  const pts=base.map((v,i)=>[t0+i*stepSec,v]).filter(p=>p[0]<tl[0][0]);
  return pts.concat(tl);
}
const trials=groupA.map(([b,t])=>joinTrial(b,t,startA))
  .concat(groupB.map(([b,t])=>joinTrial(b,t,startB)))
  .concat(irregularTrials);

const svg=d3.select("#c");
svg.append("rect").attr("width",W).attr("height",H).attr("fill","#fff");
svg.append("defs").append("clipPath").attr("id","clip").append("rect")
  .attr("x",M.l).attr("y",M.t).attr("width",M.r-M.l).attr("height",M.b-M.t);

const grid=svg.append("g").attr("stroke","#000").attr("stroke-width",1.4).attr("stroke-dasharray","1.4,7.6");
grid.selectAll("line.gx").data(xTicks.slice(1,-1)).join("line")
  .attr("x1",d=>x(d)).attr("x2",d=>x(d)).attr("y1",M.t).attr("y2",M.b);
grid.selectAll("line.gy").data(yTicks.slice(1,-1)).join("line")
  .attr("y1",d=>y(d)).attr("y2",d=>y(d)).attr("x1",M.l).attr("x2",M.r);

const line=d3.line().x(d=>x(d[0])).y(d=>y(d[1]));
svg.append("g").attr("clip-path","url(#clip)")
  .selectAll("path").data(trials).join("path")
  .attr("d",line).attr("fill","none").attr("stroke","#000")
  .attr("stroke-width",1.7).attr("stroke-linejoin","round");

// axes (ticks inward on all four sides)
const fs=22;
const fmt=d=>String(d);
const ax=svg.append("g").attr("transform",`translate(0,${M.b})`)
  .call(d3.axisBottom(x).tickValues(xTicks).tickFormat(fmt).tickSize(-10).tickSizeOuter(0).tickPadding(11));
const ay=svg.append("g").attr("transform",`translate(${M.l},0)`)
  .call(d3.axisLeft(y).tickValues(yTicks).tickFormat(fmt).tickSize(-10).tickSizeOuter(0).tickPadding(10));
const at=svg.append("g").attr("transform",`translate(0,${M.t})`)
  .call(d3.axisTop(x).tickValues(xTicks).tickSize(-10).tickSizeOuter(0).tickFormat(""));
const ar=svg.append("g").attr("transform",`translate(${M.r},0)`)
  .call(d3.axisRight(y).tickValues(yTicks).tickSize(-10).tickSizeOuter(0).tickFormat(""));
[ax,ay,at,ar].forEach(g=>{
  g.select(".domain").remove();
  g.selectAll(".tick line").attr("stroke","#000").attr("stroke-width",1.5);
  g.selectAll(".tick text").attr("font-size",fs).attr("font-family","'Liberation Sans',Arial,sans-serif").attr("fill","#000");
});
ay.selectAll(".tick text").attr("dy","0.36em");

svg.append("rect").attr("x",M.l).attr("y",M.t).attr("width",M.r-M.l).attr("height",M.b-M.t)
  .attr("fill","none").attr("stroke","#000").attr("stroke-width",1.5);

// legend
const lg=svg.append("g");
lg.append("rect").attr("x",118).attr("y",563).attr("width",233).attr("height",41)
  .attr("fill","#fff").attr("stroke","#000").attr("stroke-width",1.5);
lg.append("line").attr("x1",132).attr("x2",203).attr("y1",583.5).attr("y2",583.5)
  .attr("stroke","#000").attr("stroke-width",1.4);
lg.append("text").attr("x",211).attr("y",583.5).attr("dy","0.36em").attr("font-size",fs).text(legendText);

// titles
svg.append("text").attr("x",560).attr("y",22).attr("text-anchor","middle").attr("font-size",fs).text(titleText);
svg.append("text").attr("x",562).attr("y",680).attr("text-anchor","middle").attr("font-size",fs).text(xLabelText);
svg.append("text").attr("transform",`translate(27,${(M.t+M.b)/2}) rotate(-90)`).attr("text-anchor","middle").attr("font-size",fs).text(yLabelText);
</script></body></html>
